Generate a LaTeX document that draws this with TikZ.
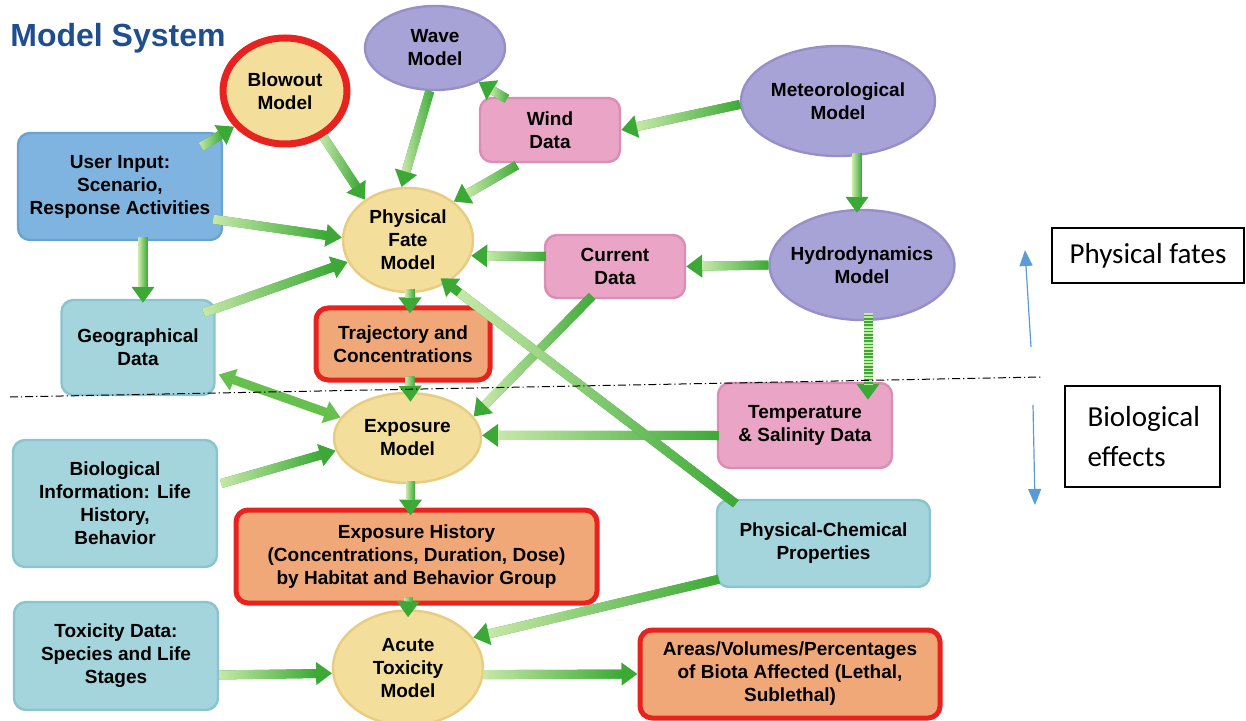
\documentclass[tikz,border=0pt]{standalone}
\usepackage{fontspec}
\setmainfont{Liberation Sans}
\newfontfamily\calfont{Carlito}
\usetikzlibrary{shapes.geometric,arrows.meta,calc,decorations.markings}
\definecolor{gLight}{HTML}{C6E8A8}
\definecolor{gDark}{HTML}{3CA936}
\definecolor{gMid}{HTML}{66C04E}
\definecolor{yelF}{HTML}{F4DE9C}
\definecolor{yelD}{HTML}{E8CC80}
\definecolor{purF}{HTML}{A8A3D6}
\definecolor{purD}{HTML}{9690C9}
\definecolor{pinkF}{HTML}{EAA4C6}
\definecolor{pinkD}{HTML}{DA8DB5}
\definecolor{blueF}{HTML}{80B4E0}
\definecolor{blueD}{HTML}{6AA2D2}
\definecolor{tealF}{HTML}{A4D4DC}
\definecolor{tealD}{HTML}{8AC4CF}
\definecolor{oranF}{HTML}{F0A878}
\definecolor{redB}{HTML}{E8221E}
\definecolor{titleB}{HTML}{1F4E8E}
\definecolor{arrB}{HTML}{5B9BD5}
\begin{document}
\begin{tikzpicture}[x=0.5pt,y=-0.5pt,
  lbl/.style={font=\bfseries\fontsize{9.5}{11.5}\selectfont, align=center, text=black},
  ell/.style={lbl, ellipse, line width=1.2pt, inner xsep=-4pt, inner ysep=0pt},
  yell/.style={ell, fill=yelF, draw=yelD},
  purp/.style={ell, fill=purF, draw=purD},
  rbox/.style={lbl, rectangle, rounded corners=6pt, line width=1.2pt, inner sep=0pt},
  bluebox/.style={rbox, fill=blueF, draw=blueD},
  tealbox/.style={rbox, fill=tealF, draw=tealD},
  pinkbox/.style={rbox, fill=pinkF, draw=pinkD},
  orbox/.style={rbox, fill=oranF, draw=redB, line width=2.5pt},
  garrow/.style={draw=gDark, line width=4.5pt, -{Triangle[width=11pt,length=8pt]},
    postaction={decorate, decoration={markings, mark=at position 0 with {\shade[left color=gLight, right color=gDark] (0pt,-2.25pt) rectangle ({\pgfdecoratedpathlength-8pt},2.25pt);}}}},
  dblarrow/.style={draw=gMid, line width=4.5pt, {Triangle[width=11pt,length=8pt]}-{Triangle[width=11pt,length=8pt]}},
  stripe/.style={draw=gDark, line width=4.5pt, -{Triangle[width=11pt,length=8pt]},
    postaction={draw=gLight, line width=4.5pt, dash pattern=on 0.8pt off 0.8pt, arrows=-, shorten >=7pt}},
  barrow/.style={draw=arrB, line width=0.6pt, -{Triangle[width=6.5pt,length=8pt]}},
  sidebox/.style={draw, line width=0.6pt, font=\calfont\fontsize{14.5}{20}\selectfont}
]
\useasboundingbox (0,0) rectangle (1246,721);

\node[font=\bfseries\fontsize{16}{18}\selectfont, text=titleB, anchor=west, inner sep=0pt] (title) at (10,38) {Model System};

% ellipses
\node[yell, draw=redB, line width=3.5pt, minimum width=62pt, minimum height=53pt] (blow) at (285,91) {Blowout\\Model};
\node[purp, minimum width=70pt, minimum height=42pt] (wave) at (435,48) {Wave\\Model};
\node[purp, minimum width=97pt, minimum height=55pt] (met) at (838,101) {Meteorological\\Model};
\node[yell, minimum width=65pt, minimum height=52pt] (pfm) at (408,240) {Physical\\Fate\\Model};
\node[purp, minimum width=92.5pt, minimum height=55pt] (hyd) at (862,265) {Hydrodynamics\\Model};
\node[yell, minimum width=73.5pt, minimum height=45pt] (exp) at (407.5,438) {Exposure\\Model};
\node[yell, minimum width=75pt, minimum height=57.5pt] (acute) at (408,668) {Acute\\Toxicity\\Model};

% boxes
\node[pinkbox, minimum width=70pt, minimum height=32pt] (wind) at (550,130) {Wind\\Data};
\node[bluebox, minimum width=102pt, minimum height=53.5pt] (user) at (120,186.5) {User Input:\\Scenario,\\Response Activities};
\node[pinkbox, minimum width=70pt, minimum height=31.5pt] (cur) at (615,266.5) {Current\\Data};
\node[tealbox, minimum width=76.5pt, minimum height=47.5pt] (geo) at (138,347.5) {Geographical\\Data};
\node[orbox, minimum width=87pt, minimum height=36pt] (traj) at (403,344) {Trajectory and\\Concentrations};
\node[pinkbox, minimum width=87pt, minimum height=42.5pt] (temp) at (805,425.5) {Temperature\\\& Salinity Data};
\node[tealbox, minimum width=102pt, minimum height=63.5pt] (bio) at (115,503.5) {Biological\\Information: Life\\History,\\Behavior};
\node[orbox, minimum width=180.5pt, minimum height=46.5pt] (exh) at (416.5,556.5) {Exposure History\\(Concentrations, Duration, Dose)\\by Habitat and Behavior Group};
\node[tealbox, minimum width=106.5pt, minimum height=43.5pt] (phc) at (823.5,543.5) {Physical-Chemical\\Properties};
\node[tealbox, minimum width=102pt, minimum height=54pt] (tox) at (116,656) {Toxicity Data:\\Species and Life\\Stages};
\node[orbox, minimum width=150pt, minimum height=44pt] (area) at (790,674) {Areas/Volumes/Percentages\\of Biota Affected (Lethal,\\Sublethal)};

% side labels
\node[sidebox, minimum width=96pt, minimum height=27.5pt, inner sep=0pt] (pf) at (1148,255.5) {Physical fates};
\node[sidebox, minimum width=77.5pt, minimum height=50.5pt, text width=55pt, align=left, inner sep=0pt] (be) at (1142.5,436.5) {Biological\\effects};

% connectors
\draw[garrow] ($(user.north east)+(-22,15)$) -- (blow.215);
\draw[garrow] (blow.310) -- (pfm.137);
\draw[garrow] (wave.263) -- (pfm.97);
\draw[garrow] ($(wind.north west)+(28,2)$) -- (wave.322);
\draw[garrow] (met.182) -- (wind.east);
\draw[garrow] ($(wind.south west)+(38,2)$) -- (pfm.40);
\draw[garrow] ($(user.south east)+(-10,-22)$) -- (pfm.178);
\draw[garrow] ($(met.south)+(19,-4)$) -- ($(hyd.north)+(-5,4)$);
\draw[garrow] ($(cur.west)+(2,-10)$) -- (pfm.346);
\draw[garrow] (hyd.west) -- (cur.east);
\draw[garrow] ($(user.south)+(23,-4)$) -- ($(geo.north)+(5,4)$);
\draw[garrow] ($(geo.north east)+(-12,14)$) -- (pfm.200);
\draw[garrow] ($(pfm.south)+(2,-4)$) -- ($(traj.north)+(7,8)$);
\draw[garrow] ($(traj.south)+(7,-6)$) -- ($(exp.north)+(3,10)$);
\draw[dblarrow] ($(geo.east)+(3,27)$) -- (exp.163);
\draw[garrow] ($(cur.south)+(-23,-3)$) -- (exp.18);
\draw[stripe] ($(hyd.south)+(6,-8)$) -- ($(temp.north)+(63,18)$);
\draw[garrow] ($(temp.west)+(2,10)$) -- (exp.2);
\draw[garrow, shorten >=-4pt] ($(phc.north west)+(20,5)$) -- (pfm.312);
\draw[garrow] ($(bio.east)+(3,-20)$) -- (exp.190);
\draw[garrow] ($(exp.south)+(3,-3)$) -- ($(exh.north)+(-6,8)$);
\draw[garrow] ($(exh.south)+(-8,-8)$) -- ($(acute.north)+(0,8)$);
\draw[garrow] ($(phc.south west)+(3,-9)$) -- (acute.25);
\draw[garrow] ($(tox.east)+(0,19)$) -- (acute.184);
\draw[garrow] (acute.355) -- (area.west);

% divider and side arrows
\coordinate (dl1) at (10,397);
\coordinate (dl2) at (1042,377);
\draw[line width=0.5pt, dash pattern=on 4pt off 1.5pt on 0.6pt off 1.5pt] (dl1) -- (dl2);
\coordinate (u1) at (1031,347);
\coordinate (u2) at (1025,250);
\coordinate (d1) at (1033,405);
\coordinate (d2) at (1035,505);
\draw[barrow] (u1) -- (u2);
\draw[barrow] (d1) -- (d2);
\end{tikzpicture}
\end{document}
